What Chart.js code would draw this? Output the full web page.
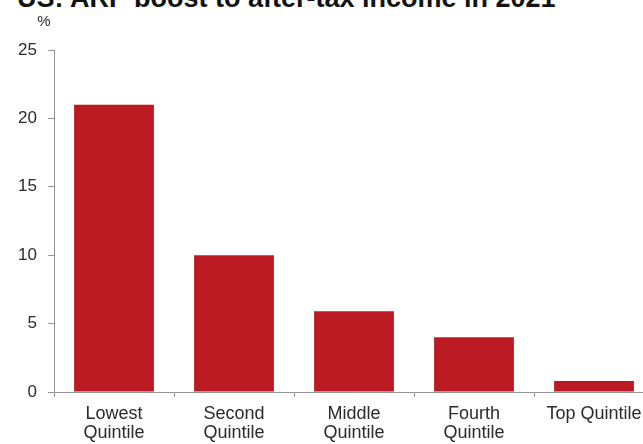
<!DOCTYPE html>
<html>
<head>
<meta charset="utf-8">
<script src="https://cdn.jsdelivr.net/npm/chart.js@4/dist/chart.umd.min.js"></script>
<style>
  html, body { margin: 0; padding: 0; background: #fff; }
  body { width: 643px; height: 444px; overflow: hidden; position: relative; }
  #title {
    position: absolute; left: 17px; top: -15px;
    font: bold 27px "Liberation Sans", Arial, sans-serif; line-height: 27px;
    color: #111; white-space: nowrap;
  }
  #wrap { position: absolute; left: 0; top: 0; width: 662px; height: 444px; }
</style>
</head>
<body>
<div id="title">US: ARP boost to after-tax income in 2021</div>
<div id="wrap"><canvas id="c"></canvas></div>
<script>
// Income groups and the ARP boost to after-tax income (%)
const quintiles = [["Lowest", "Quintile"], ["Second", "Quintile"], ["Middle", "Quintile"], ["Fourth", "Quintile"], "Top Quintile"];
const boostPct = [21, 10, 5.9, 4.0, 0.8];
const yTicks = [0, 5, 10, 15, 20, 25];

const FONT = "'Liberation Sans', Arial, sans-serif";
const AXIS = '#969696';
const TEXT = '#2b2b2b';

// Small "%" unit label above the value axis
const unitLabel = {
  id: 'unitLabel',
  afterDraw(chart) {
    const { ctx, scales: { y } } = chart;
    ctx.save();
    ctx.font = '15px ' + FONT;
    ctx.fillStyle = TEXT;
    ctx.textAlign = 'center';
    ctx.textBaseline = 'alphabetic';
    ctx.fillText('%', y.right - 10, y.top - 24);
    ctx.restore();
  }
};

new Chart(document.getElementById('c'), {
  type: 'bar',
  data: {
    labels: quintiles,
    datasets: [{
      data: boostPct,
      backgroundColor: '#BC1A22',
      borderWidth: 0,
      barPercentage: 0.665,
      categoryPercentage: 1.0
    }]
  },
  options: {
    responsive: true,
    maintainAspectRatio: false,
    animation: false,
    layout: { padding: { top: 50, right: 8, left: 0, bottom: 0 } },
    plugins: { legend: { display: false }, tooltip: { enabled: false }, title: { display: false } },
    scales: {
      x: {
        offset: true,
        afterFit(scale) { scale.height = 52; },
        border: { display: true, color: AXIS, width: 1 },
        grid: { offset: true, drawOnChartArea: false, drawTicks: true, tickLength: 5, color: AXIS },
        ticks: {
          color: TEXT, padding: 7,
          font: { family: FONT, size: 18, lineHeight: 1.06 },
          maxRotation: 0, autoSkip: false
        }
      },
      y: {
        min: 0, max: 25,
        afterFit(scale) { scale.width = 54; },
        afterBuildTicks(scale) { scale.ticks = yTicks.map(v => ({ value: v })); },
        border: { display: true, color: AXIS, width: 1 },
        grid: { drawOnChartArea: false, drawTicks: true, tickLength: 6, color: AXIS },
        ticks: { color: TEXT, padding: 11, font: { family: FONT, size: 17 } }
      }
    }
  },
  plugins: [unitLabel]
});
</script>
</body>
</html>
